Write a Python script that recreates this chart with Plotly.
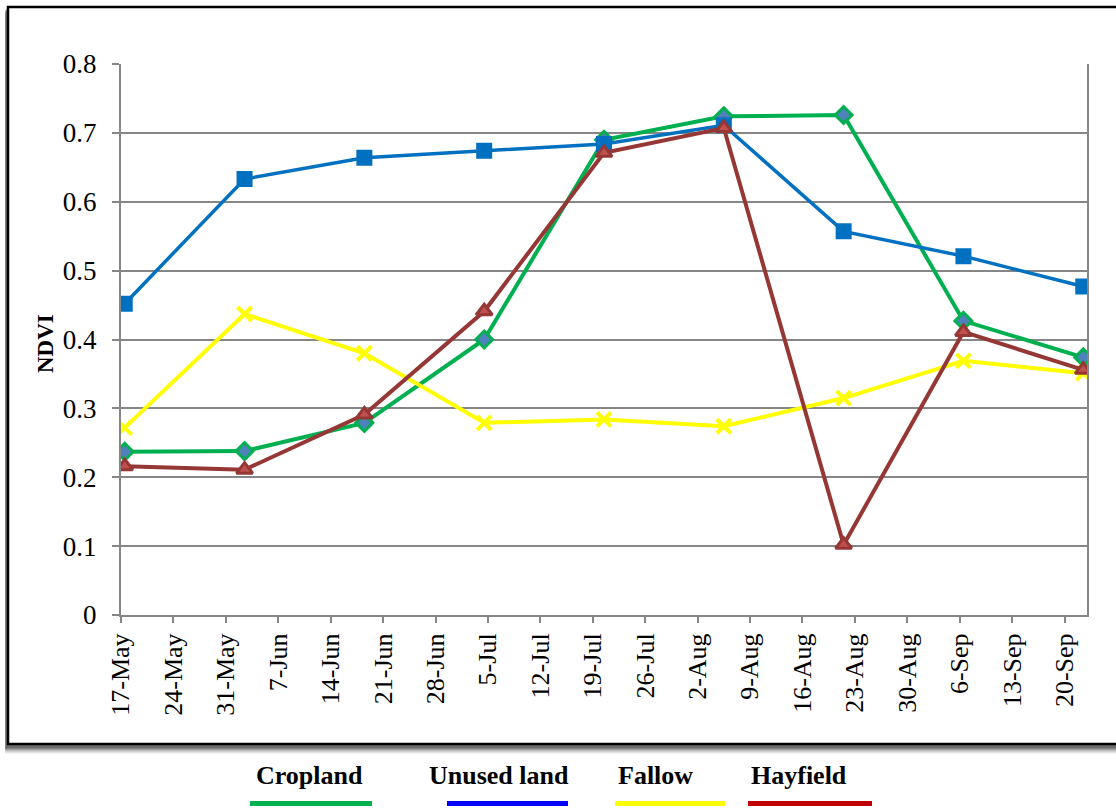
import plotly.graph_objects as go

# Acquisition dates (16-day revisit) and mean NDVI per land-use class
dates = ["2010-05-17", "2010-06-02", "2010-06-18", "2010-07-04", "2010-07-20",
         "2010-08-05", "2010-08-21", "2010-09-06", "2010-09-22"]
cropland = [0.237, 0.238, 0.279, 0.400, 0.690, 0.724, 0.726, 0.427, 0.374]
unused_land = [0.452, 0.633, 0.664, 0.674, 0.684, 0.711, 0.557, 0.521, 0.477]
fallow = [0.272, 0.437, 0.380, 0.279, 0.284, 0.274, 0.315, 0.369, 0.351]
hayfield = [0.216, 0.211, 0.291, 0.441, 0.671, 0.707, 0.102, 0.411, 0.356]

legend_names = ["Cropland", "Unused land", "Fallow", "Hayfield"]
legend_colors = ["#00B050", "#0000FF", "#FFFF00", "#C00000"]

W, H = 1116, 809
L, R, T, B = 121, 29, 64, 194
PW, PH = W - L - R, H - T - B
FONT = "Liberation Serif"


def px(x):
    return (x - L) / PW


def py(y):
    return (H - B - y) / PH


fig = go.Figure()
day = 86400000

fig.add_trace(go.Scatter(
    x=dates, y=cropland, name="Cropland", mode="lines+markers",
    xperiod=day, xperiodalignment="middle",
    line=dict(color="#00B050", width=4),
    marker=dict(symbol="diamond", size=13, color="#4F81BD",
                line=dict(color="#00B050", width=3))))
fig.add_trace(go.Scatter(
    x=dates, y=unused_land, name="Unused land", mode="lines+markers",
    xperiod=day, xperiodalignment="middle",
    line=dict(color="#0070C0", width=3.5),
    marker=dict(symbol="square", size=14, color="#0070C0",
                line=dict(color="#0070C0", width=2))))
fig.add_trace(go.Scatter(
    x=dates, y=fallow, name="Fallow", mode="lines+markers",
    xperiod=day, xperiodalignment="middle",
    line=dict(color="#FFFF00", width=4),
    marker=dict(symbol="x-thin", size=14, color="#FFFF00",
                line=dict(color="#FFFF00", width=4))))
fig.add_trace(go.Scatter(
    x=dates, y=hayfield, name="Hayfield", mode="lines+markers",
    xperiod=day, xperiodalignment="middle",
    line=dict(color="#953735", width=4),
    marker=dict(symbol="triangle-up", size=14, color="#C0504D",
                line=dict(color="#953735", width=3))))

shapes = []
# drop shadow of the outer frame
for i, op in enumerate([0.06, 0.09, 0.12, 0.16, 0.22, 0.30, 0.40]):
    off = 8 - i
    shapes.append(dict(type="rect", xref="paper", yref="paper", layer="below",
                       x0=px(8 - min(off, 3)), x1=px(1130), y0=py(7 + off), y1=py(744 + off + 2),
                       line=dict(width=0), fillcolor=f"rgba(70,70,70,{op})"))
shapes.append(dict(type="rect", xref="paper", yref="paper", layer="below",
                   x0=px(8), x1=px(1130), y0=py(7), y1=py(744),
                   line=dict(color="black", width=2.5), fillcolor="white"))

annotations = [dict(text="<b>NDVI</b>", xref="paper", yref="paper",
                    x=px(45), y=py(344), xanchor="center", yanchor="middle",
                    textangle=-90, showarrow=False,
                    font=dict(family=FONT, size=23, color="black"))]

legend_text_x = [309, 499, 655, 799]
legend_line_x = [(250, 372), (447, 568), (615, 725), (748, 872)]
for name, col, tx, (lx0, lx1) in zip(legend_names, legend_colors, legend_text_x, legend_line_x):
    annotations.append(dict(text=f"<b>{name}</b>", xref="paper", yref="paper",
                            x=px(tx), y=py(775), xanchor="center", yanchor="middle",
                            showarrow=False,
                            font=dict(family=FONT, size=26, color="black")))
    shapes.append(dict(type="line", xref="paper", yref="paper",
                       x0=px(lx0), x1=px(lx1), y0=py(803.5), y1=py(803.5),
                       line=dict(color=col, width=5)))

fig.update_layout(
    width=W, height=H,
    margin=dict(l=L, r=R, t=T, b=B),
    paper_bgcolor="rgba(0,0,0,0)", plot_bgcolor="white",
    showlegend=False,
    font=dict(family=FONT, size=26, color="black"),
    shapes=shapes, annotations=annotations,
    xaxis=dict(type="date", range=["2010-05-17", "2010-09-23"],
               tick0="2010-05-17", dtick=7 * day, tickformat="%-d-%b",
               tickangle=-90, ticks="outside", ticklen=6, tickwidth=2,
               tickcolor="#868686", showgrid=False,
               showline=True, linecolor="#868686", linewidth=2,
               tickfont=dict(family=FONT, size=26, color="black")),
    yaxis=dict(range=[0, 0.8], dtick=0.1, tickformat="~g",
               ticks="outside", ticklen=7, tickwidth=2, tickcolor="#868686",
               ticklabelstandoff=10,
               showgrid=True, gridcolor="#868686", gridwidth=2,
               showline=True, linecolor="#868686", linewidth=2, mirror=True,
               zeroline=False,
               tickfont=dict(family=FONT, size=27, color="black")),
)

fig.write_html("out.html")
